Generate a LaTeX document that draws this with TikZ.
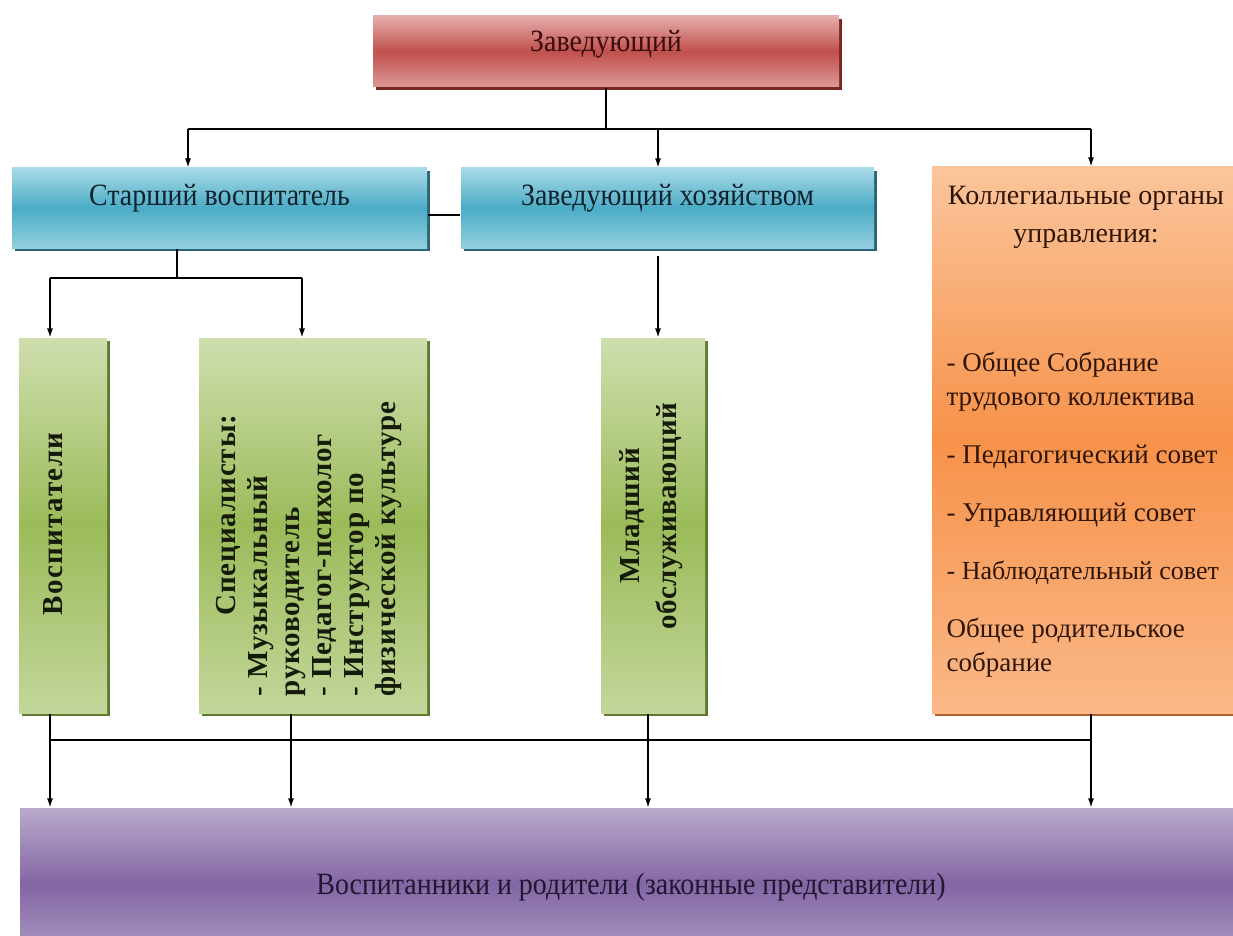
\documentclass[tikz,border=0pt]{standalone}
\usepackage{fontspec}
\setmainfont{Liberation Serif}
\newfontfamily\estrecha[FakeStretch=0.9]{Liberation Serif}
\usetikzlibrary{arrows.meta,shadows,calc}

\definecolor{rojoA}{HTML}{E6AEAC}
\definecolor{rojoB}{HTML}{C0504D}
\definecolor{rojoC}{HTML}{DC9896}
\definecolor{rojoS}{HTML}{7A2624}
\definecolor{rojoT}{HTML}{3A0C0C}
\definecolor{azulA}{HTML}{A9DAE7}
\definecolor{azulB}{HTML}{4BACC6}
\definecolor{azulC}{HTML}{92CFDE}
\definecolor{azulS}{HTML}{2A6478}
\definecolor{azulT}{HTML}{10222C}
\definecolor{verdeA}{HTML}{CFDEAE}
\definecolor{verdeB}{HTML}{9BBB59}
\definecolor{verdeC}{HTML}{C3D69B}
\definecolor{verdeS}{HTML}{5E7A2E}
\definecolor{verdeT}{HTML}{161A0A}
\definecolor{naranjaA}{HTML}{FBC59C}
\definecolor{naranjaB}{HTML}{F7924A}
\definecolor{naranjaC}{HTML}{FAB888}
\definecolor{naranjaS}{HTML}{B0622A}
\definecolor{naranjaT}{HTML}{2E1508}
\definecolor{moradoA}{HTML}{B9AACB}
\definecolor{moradoB}{HTML}{8366A4}
\definecolor{moradoC}{HTML}{AE9CC4}
\definecolor{moradoS}{HTML}{4E3A66}
\definecolor{moradoT}{HTML}{221630}

\tikzset{
    caja/.style={rectangle, inner sep=0pt, align=center},
    cajaRoja/.style={caja, top color=rojoA, bottom color=rojoC, middle color=rojoB,
        drop shadow={shadow xshift=3pt, shadow yshift=-3pt, fill=rojoS, opacity=1},
        text=rojoT, font=\estrecha\fontsize{31}{37}\selectfont, text height=22pt, text depth=22pt},
    cajaAzul/.style={caja, top color=azulA, bottom color=azulC, middle color=azulB,
        drop shadow={shadow xshift=3pt, shadow yshift=-3pt, fill=azulS, opacity=1},
        text=azulT, font=\estrecha\fontsize{31}{37}\selectfont, text height=22pt, text depth=28pt},
    cajaVerde/.style={caja, top color=verdeA, bottom color=verdeC, middle color=verdeB,
        drop shadow={shadow xshift=3pt, shadow yshift=-3pt, fill=verdeS, opacity=1}},
    cajaNaranja/.style={caja, top color=naranjaA, bottom color=naranjaC, middle color=naranjaB,
        drop shadow={shadow xshift=3pt, shadow yshift=-3pt, fill=naranjaS, opacity=1}},
    cajaMorada/.style={caja, top color=moradoA, bottom color=moradoC, middle color=moradoB,
        text=moradoT, font=\estrecha\fontsize{31}{37}\selectfont, text height=22pt, text depth=2pt},
    textoVerde/.style={inner sep=0pt, rotate=90, text=verdeT, font=\bfseries\fontsize{29}{32}\selectfont},
    textoNaranja/.style={inner sep=0pt, text=naranjaT, font=\fontsize{28}{34}\selectfont}
}

\begin{document}
\begin{tikzpicture}[x=1pt, y=-1pt, line width=1.2pt, >={Latex[length=9pt,width=6pt]}]
    \useasboundingbox (0,0) rectangle (1233,936);
    \clip (0,0) rectangle (1233,936);

    % Dibuja las cajas
    \node[cajaRoja, minimum width=466pt, minimum height=71pt] (jefe) at (606,51.5) {Заведующий};
    \node[cajaAzul, minimum width=415pt, minimum height=80pt] (mayor) at (219.5,208) {Старший воспитатель};
    \node[cajaAzul, minimum width=413pt, minimum height=80pt] (hoz) at (667.5,208) {Заведующий хозяйством};
    \node[cajaNaranja, minimum width=310pt, minimum height=546pt] (coleg) at (1087,440) {};
    \node[cajaVerde, minimum width=88pt, minimum height=375pt] (educ) at (63,525.5) {};
    \node[cajaVerde, minimum width=228pt, minimum height=375pt] (espe) at (313,525.5) {};
    \node[cajaVerde, minimum width=104pt, minimum height=375pt] (jun) at (653,525.5) {};
    \node[cajaMorada, minimum width=1222pt, minimum height=152pt] (fam) at (631,884) {Воспитанники и родители (законные представители)};

    % Dibuja los textos
    \node[textoVerde] (educ-t) at (53,524) {\addfontfeature{LetterSpace=5}Воспитатели};
    \node[textoVerde, align=left] (espe-t) at (309,549) {\addfontfeature{LetterSpace=3}\hspace*{2.8em}Специалисты:\\
        \addfontfeature{LetterSpace=3}- Музыкальный\\\addfontfeature{LetterSpace=3}руководитель\\
        \addfontfeature{LetterSpace=3}- Педагог-психолог\\\addfontfeature{LetterSpace=3}- Инструктор по\\
        \addfontfeature{LetterSpace=3}физической культуре};
    \node[textoVerde, align=center] (jun-t) at (651,516) {\addfontfeature{LetterSpace=3}Младший\\[5pt]\addfontfeature{LetterSpace=2}обслуживающий};
    \node[textoNaranja, anchor=north, align=center] (coleg-t) at (1086,186) {Коллегиальные органы\\[4pt]управления:};
    \node[textoNaranja, anchor=north west, align=left, font=\fontsize{27}{34}\selectfont] (coleg-l) at (946,352) {- Общее Собрание\\трудового коллектива\\[24pt]- Педагогический совет\\[24pt]- Управляющий совет\\[24pt]{\fontsize{26}{34}\selectfont - Наблюдательный совет}\\[24pt]Общее родительское\\собрание};

    % Dibuja las flechas de arriba
    \coordinate (b1) at (188,129);
    \coordinate (b2) at (658,129);
    \coordinate (b3) at (1091,129);
    \draw (jefe.south) -- (jefe.south |- b1);
    \draw (b1) -- (b3);
    \foreach \b/\n in {b1/mayor, b2/hoz, b3/coleg}
        \draw[->] (\b) -- (\b |- \n.north);
    \draw ([yshift=-7pt]mayor.east) -- ([yshift=-7pt]hoz.west);

    % Dibuja las flechas del medio
    \coordinate (c0) at (177,278);
    \coordinate (c1) at (50,278);
    \coordinate (c2) at (302,278);
    \draw (c0 |- mayor.south) -- (c0);
    \draw (c1) -- (c2);
    \draw[->] (c1) -- (c1 |- educ.north);
    \draw[->] (c2) -- (c2 |- espe.north);
    \draw[->] ($(b2 |- hoz.south)+(0,7)$) -- (b2 |- jun.north);

    % Dibuja las flechas de abajo
    \coordinate (d1) at (50,740);
    \coordinate (d2) at (291,740);
    \coordinate (d3) at (648,740);
    \coordinate (d4) at (1091,740);
    \draw (d1) -- (d4);
    \foreach \d/\n in {d1/educ, d2/espe, d3/jun, d4/coleg} {
        \draw (\d |- \n.south) -- (\d);
        \draw[->] (\d) -- (\d |- fam.north);
    }
\end{tikzpicture}
\end{document}
